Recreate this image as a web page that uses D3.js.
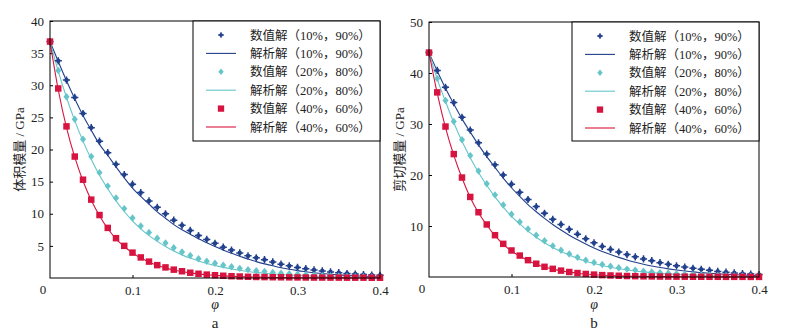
<!DOCTYPE html>
<html>
<head>
<meta charset="utf-8">
<script src="https://cdn.jsdelivr.net/npm/d3@7"></script>
<style>
  body { margin: 0; background: #fff; }
  svg { display: block; }
  text { font-family: "Liberation Serif", "Noto Sans CJK SC", serif; fill: #222; }
</style>
</head>
<body>
<svg id="chart" width="785" height="335"></svg>
<script>
// volume fraction grid
const phi = [0.00,0.01,0.02,0.03,0.04,0.05,0.06,0.07,0.08,0.09,0.10,0.11,0.12,0.13,0.14,0.15,0.16,0.17,0.18,0.19,0.20,
  0.21,0.22,0.23,0.24,0.25,0.26,0.27,0.28,0.29,0.30,0.31,0.32,0.33,0.34,0.35,0.36,0.37,0.38,0.39,0.40];

// bulk modulus (panel a)
const numK1 = [36.8,33.8,30.8,28.1,25.6,23.4,21.3,19.5,17.7,16.1,14.6,13.3,12.0,11.0,10.0,9.0,8.2,7.4,6.6,6.0,5.4,
  4.8,4.35,3.9,3.45,3.15,2.85,2.5,2.15,1.9,1.65,1.45,1.25,1.1,0.95,0.83,0.7,0.62,0.53,0.47,0.42];
const anaK1 = [36.8,33.7,30.7,27.9,25.3,23.0,20.8,19.1,17.3,15.6,14.0,12.7,11.5,10.3,9.3,8.3,7.5,6.8,6.1,5.5,4.9,
  4.35,3.85,3.4,2.95,2.55,2.2,1.9,1.6,1.35,1.15,0.98,0.82,0.7,0.58,0.48,0.4,0.33,0.27,0.22,0.18];
const numK2 = [36.8,32.3,28.2,24.7,21.6,18.9,16.4,14.3,12.45,10.8,9.35,8.1,7.1,6.2,5.45,4.7,4.05,3.5,3.0,2.6,2.3,
  2.0,1.75,1.5,1.3,1.14,1.0,0.86,0.75,0.65,0.57,0.5,0.43,0.37,0.32,0.28,0.24,0.21,0.18,0.16,0.14];
const anaK2 = [36.8,32.2,28.1,24.5,21.3,18.5,16.0,13.9,12.0,10.35,8.9,7.65,6.6,5.7,4.9,4.2,3.6,3.1,2.65,2.25,1.95,
  1.65,1.4,1.2,1.02,0.87,0.74,0.63,0.54,0.46,0.39,0.33,0.28,0.24,0.2,0.17,0.15,0.13,0.11,0.09,0.08];
const numK3 = [36.8,29.5,23.6,18.9,15.3,12.2,9.8,7.8,6.2,5.0,3.95,3.2,2.55,2.0,1.65,1.3,1.05,0.82,0.66,0.53,0.43,
  0.35,0.28,0.23,0.19,0.16,0.14,0.12,0.11,0.10,0.09,0.08,0.07,0.07,0.06,0.06,0.05,0.05,0.05,0.04,0.04];
const anaK3 = [36.8,29.3,23.4,18.8,15.1,12.1,9.7,7.7,6.1,4.9,3.9,3.1,2.5,1.98,1.58,1.25,1.0,0.8,0.64,0.51,0.41,
  0.33,0.26,0.21,0.17,0.14,0.11,0.09,0.07,0.06,0.05,0.04,0.03,0.03,0.02,0.02,0.02,0.01,0.01,0.01,0.01];

// shear modulus (panel b)
const numG1 = [44.0,40.5,37.2,34.2,31.3,28.8,26.3,24.1,22.0,20.0,18.2,16.6,15.2,13.8,12.5,11.3,10.3,9.35,8.4,7.5,6.7,
  6.0,5.4,4.9,4.4,3.95,3.55,3.2,2.8,2.5,2.2,1.95,1.7,1.5,1.3,1.1,0.95,0.8,0.68,0.58,0.48];
const anaG1 = [44.0,40.4,37.0,33.9,31.0,28.4,25.9,23.6,21.5,19.4,17.5,15.8,14.2,12.8,11.5,10.3,9.2,8.2,7.3,6.45,5.7,
  5.0,4.4,3.85,3.35,2.9,2.5,2.15,1.85,1.6,1.38,1.18,1.0,0.86,0.73,0.62,0.53,0.45,0.38,0.32,0.27];
const numG2 = [44.0,38.9,34.6,30.5,26.9,23.8,20.8,18.3,16.1,14.1,12.3,10.8,9.4,8.2,7.1,6.1,5.25,4.5,3.85,3.3,2.85,
  2.45,2.1,1.8,1.55,1.35,1.15,1.0,0.86,0.74,0.64,0.55,0.47,0.41,0.35,0.3,0.26,0.22,0.19,0.17,0.15];
const anaG2 = [44.0,38.8,34.4,30.3,26.6,23.4,20.5,18.0,15.7,13.7,11.9,10.4,9.0,7.8,6.7,5.8,5.0,4.3,3.65,3.1,2.65,
  2.25,1.9,1.62,1.38,1.17,1.0,0.85,0.72,0.61,0.52,0.44,0.37,0.31,0.26,0.22,0.19,0.16,0.14,0.12,0.1];
const numG3 = [44.0,36.2,29.5,24.1,19.5,15.7,12.7,10.3,8.2,6.5,5.2,4.2,3.3,2.6,2.0,1.6,1.25,0.98,0.78,0.6,0.47,
  0.37,0.3,0.24,0.19,0.16,0.13,0.11,0.09,0.08,0.07,0.06,0.05,0.05,0.04,0.04,0.03,0.03,0.03,0.02,0.02];
const anaG3 = [44.0,36.0,29.3,23.9,19.4,15.6,12.6,10.2,8.1,6.4,5.1,4.1,3.2,2.5,1.95,1.55,1.2,0.95,0.74,0.58,0.45,
  0.35,0.28,0.22,0.18,0.15,0.12,0.1,0.08,0.07,0.06,0.05,0.04,0.04,0.03,0.03,0.03,0.02,0.02,0.02,0.02];

const legendLabels = ["数值解（10%，90%）", "解析解（10%，90%）", "数值解（20%，80%）",
  "解析解（20%，80%）", "数值解（40%，60%）", "解析解（40%，60%）"];
const xTicks = [0.1, 0.2, 0.3, 0.4];
const kTicks = [5, 10, 15, 20, 25, 30, 35, 40];
const gTicks = [10, 20, 30, 40, 50];

const colors = ["#22418c", "#66c5c9", "#d7143f"];

// wide diamond like the original marker
const wideDiamond = {
  draw(ctx, size) {
    const h = Math.sqrt(size) * 0.62, w = h * 0.82;
    ctx.moveTo(0, -h); ctx.lineTo(w, 0); ctx.lineTo(0, h); ctx.lineTo(-w, 0); ctx.closePath();
  }
};
// plus with short diagonals, like the star marker in the original
const plusStar = {
  draw(ctx, size) {
    const r = Math.sqrt(size) * 0.6, s = r * 0.45;
    ctx.moveTo(0, -r); ctx.lineTo(0, r);
    ctx.moveTo(-r, 0); ctx.lineTo(r, 0);
    ctx.moveTo(-s, -s); ctx.lineTo(s, s);
    ctx.moveTo(-s, s); ctx.lineTo(s, -s);
  }
};

const svg = d3.select("#chart");
svg.append("rect").attr("width", 785).attr("height", 335).attr("fill", "#fff");

drawPanel({
  x0: 50, x1: 380, yTop: 21, yBot: 278,
  yMax: 40, yTicks: kTicks, yTitle: "体积模量 / GPa", titleX: 24,
  num: [numK1, numK2, numK3], ana: [anaK1, anaK2, anaK3], tag: "a"
});
drawPanel({
  x0: 429, x1: 759, yTop: 22, yBot: 277,
  yMax: 50, yTicks: gTicks, yTitle: "剪切模量 / GPa", titleX: 404,
  num: [numG1, numG2, numG3], ana: [anaG1, anaG2, anaG3], tag: "b"
});

function drawPanel({ x0, x1, yTop, yBot, yMax, yTicks, yTitle, titleX, num, ana, tag }) {
  const x = d3.scaleLinear().domain([0, 0.4]).range([x0, x1]);
  const y = d3.scaleLinear().domain([0, yMax]).range([yBot, yTop]);
  const g = svg.append("g");

  // axes with inward ticks
  const yAxis = g.append("g").attr("transform", `translate(${x0},0)`)
    .call(d3.axisLeft(y).tickValues(yTicks).tickSize(-3).tickPadding(6));
  const xAxis = g.append("g").attr("transform", `translate(0,${yBot})`)
    .call(d3.axisBottom(x).tickValues(xTicks).tickSize(-3).tickPadding(8).tickFormat(d3.format(".1f")));
  for (const ax of [xAxis, yAxis]) {
    ax.select(".domain").remove();
    ax.selectAll("line").attr("stroke", "#000");
    ax.selectAll("text").attr("font-size", 13).attr("font-family", "Liberation Serif").attr("fill", "#222");
  }
  g.append("text").attr("x", x(0) - 7).attr("y", yBot + 16)
    .attr("text-anchor", "middle").attr("font-size", 13).text("0");

  // curves
  const line = d3.line().x((d, i) => x(phi[i])).y(d => y(d)).curve(d3.curveMonotoneX);
  ana.forEach((s, k) => {
    g.append("path").datum(s).attr("d", line)
      .attr("fill", "none").attr("stroke", colors[k]).attr("stroke-width", 1.1);
  });

  const star = d3.symbol(plusStar, 36);
  const diamond = d3.symbol(wideDiamond, 36);
  const square = d3.symbol(d3.symbolSquare, 42);

  g.append("g").selectAll("path").data(num[0]).join("path")
    .attr("transform", (d, i) => `translate(${x(phi[i])},${y(d)})`)
    .attr("d", star).attr("fill", "none").attr("stroke", colors[0]).attr("stroke-width", 1.5);
  g.append("g").selectAll("path").data(num[1]).join("path")
    .attr("transform", (d, i) => `translate(${x(phi[i])},${y(d)})`)
    .attr("d", diamond).attr("fill", colors[1]);
  g.append("g").selectAll("path").data(num[2]).join("path")
    .attr("transform", (d, i) => `translate(${x(phi[i])},${y(d)})`)
    .attr("d", square).attr("fill", colors[2]);

  // frame
  g.append("rect").attr("x", x0).attr("y", yTop).attr("width", x1 - x0).attr("height", yBot - yTop)
    .attr("fill", "none").attr("stroke", "#000").attr("stroke-width", 1);

  // legend
  const lw = 187, lx = x1 - lw;
  const leg = g.append("g");
  leg.append("rect").attr("x", lx).attr("y", yTop).attr("width", lw).attr("height", 141 - yTop)
    .attr("fill", "#fff").attr("stroke", "#000").attr("stroke-width", 1);
  const rowY = i => yTop + 14 + i * 18.4;
  const legSyms = [d3.symbol(plusStar, 22), d3.symbol(wideDiamond, 28), d3.symbol(d3.symbolSquare, 40)];
  legendLabels.forEach((lab, i) => {
    const c = colors[Math.floor(i / 2)], cy = rowY(i);
    if (i % 2 === 1) {
      leg.append("line").attr("x1", lx + 13).attr("x2", lx + 43).attr("y1", cy).attr("y2", cy)
        .attr("stroke", c).attr("stroke-width", 1.1);
    } else {
      const p = leg.append("path").attr("d", legSyms[i / 2]).attr("transform", `translate(${lx + 28},${cy})`);
      if (i === 0) p.attr("fill", "none").attr("stroke", c).attr("stroke-width", 1.4);
      else p.attr("fill", c);
    }
    leg.append("text").attr("x", lx + 57).attr("y", cy + 4.5)
      .attr("font-size", 12.5).text(lab);
  });

  // titles
  g.append("text").attr("transform", `translate(${titleX},${(yTop + yBot) / 2}) rotate(-90)`)
    .attr("text-anchor", "middle").attr("font-size", 13).text(yTitle);
  const cx = (x0 + x1) / 2;
  g.append("text").attr("x", cx).attr("y", 309).attr("text-anchor", "middle")
    .attr("font-size", 14).attr("font-style", "italic").text("φ");
  g.append("text").attr("x", cx).attr("y", 328).attr("text-anchor", "middle")
    .attr("font-size", 15).text(tag);
}
</script>
</body>
</html>
